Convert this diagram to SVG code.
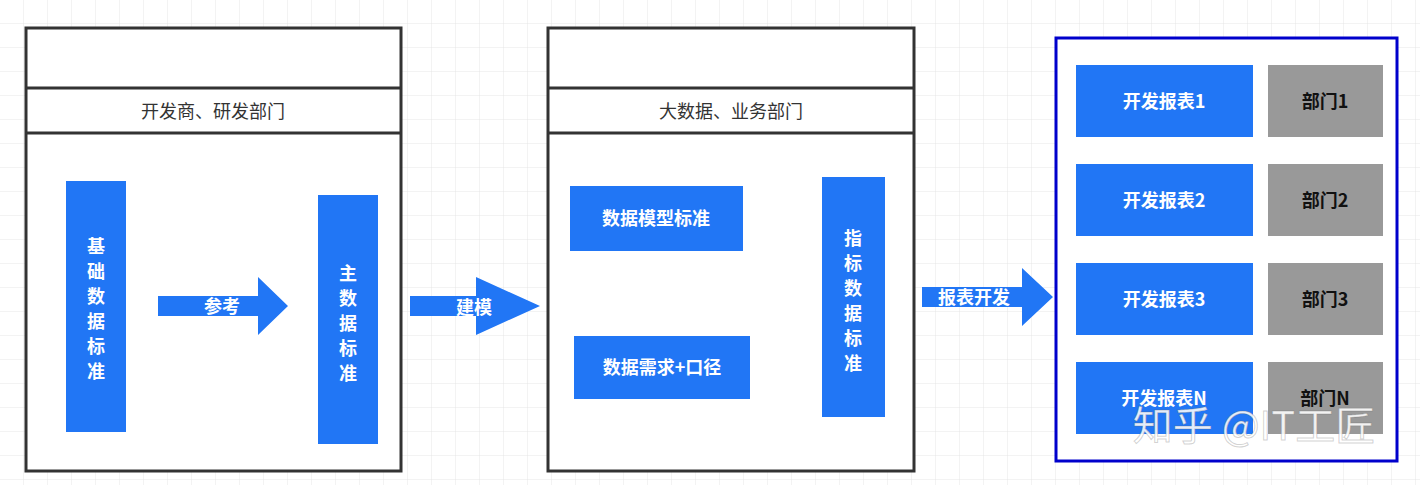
<svg xmlns="http://www.w3.org/2000/svg" width="1420" height="485" viewBox="0 0 1420 485">
<defs>
<pattern id="g" width="24" height="24" patternUnits="userSpaceOnUse"><path d="M24 0V24H0" fill="none" stroke="#e6e6e6" stroke-width="1"/></pattern>
<style>
.pan{fill:#fff;stroke:#333;stroke-width:3}
.b{fill:#2176f5}
.gr{fill:#999}
.t{font-family:"Noto Sans CJK SC","Liberation Sans",sans-serif;font-size:18px;fill:#333;text-anchor:middle}
.w{font-family:"Noto Sans CJK SC","Liberation Sans",sans-serif;font-size:18px;font-weight:bold;fill:#fff;text-anchor:middle}
.k{font-family:"Noto Sans CJK SC","Liberation Sans",sans-serif;font-size:18px;font-weight:bold;fill:#111;text-anchor:middle}
</style>
</defs>
<rect width="1420" height="485" fill="#fff"/>
<rect width="1420" height="485" fill="url(#g)"/>
<g id="panel1">
<rect class="pan" x="26" y="28" width="375" height="443"/>
<path d="M26 88H401M26 133H401" stroke="#333" stroke-width="3"/>
<text class="t" x="213" y="118" font-weight="normal">开发商、研发部门</text>
</g>
<g id="jichu"><rect class="b" x="66" y="181" width="60" height="251"/>
<text class="w" x="96" y="253">基</text><text class="w" x="96" y="278">础</text><text class="w" x="96" y="303">数</text><text class="w" x="96" y="328">据</text><text class="w" x="96" y="353">标</text><text class="w" x="96" y="378">准</text></g>
<g id="zhu"><rect class="b" x="318" y="195" width="60" height="249"/>
<text class="w" x="348" y="280">主</text><text class="w" x="348" y="305">数</text><text class="w" x="348" y="330">据</text><text class="w" x="348" y="355">标</text><text class="w" x="348" y="380">准</text></g>
<g id="panel2">
<rect class="pan" x="548" y="28" width="366" height="443"/>
<path d="M548 88H914M548 133H914" stroke="#333" stroke-width="3"/>
<text class="t" x="731" y="118">大数据、业务部门</text>
</g>
<g id="moxing"><rect class="b" x="570" y="186" width="173" height="65"/><text class="w" x="656" y="225">数据模型标准</text></g>
<g id="xuqiu"><rect class="b" x="574" y="336" width="176" height="63"/><text class="w" x="662" y="374">数据需求+口径</text></g>
<g id="zhibiao"><rect class="b" x="822" y="177" width="63" height="240"/>
<text class="w" x="853" y="245">指</text><text class="w" x="853" y="270">标</text><text class="w" x="853" y="295">数</text><text class="w" x="853" y="320">据</text><text class="w" x="853" y="345">标</text><text class="w" x="853" y="370">准</text></g>
<g id="connectors">
<path class="b" d="M158 296H258V277L288 306L258 335V316H158Z"/>
<text class="w" x="222" y="313">参考</text>
<path class="b" d="M410 296H476V277L540 306L476 335V316H410Z"/>
<text class="w" x="474" y="314">建模</text>
<path class="b" d="M922 287H1022V268L1053 297L1022 326V307H922Z"/>
<text class="w" x="974" y="304">报表开发</text>
</g>
<g id="panel3">
<rect x="1056" y="38" width="341" height="423" fill="#fff" stroke="#0000cc" stroke-width="3"/>
</g>
<g id="r1"><rect class="b" x="1076" y="65" width="177" height="72"/><text class="w" x="1164" y="108">开发报表1</text><rect class="gr" x="1268" y="65" width="115" height="72"/><text class="k" x="1325" y="108">部门1</text></g>
<g id="r2"><rect class="b" x="1076" y="164" width="177" height="72"/><text class="w" x="1164" y="207">开发报表2</text><rect class="gr" x="1268" y="164" width="115" height="72"/><text class="k" x="1325" y="207">部门2</text></g>
<g id="r3"><rect class="b" x="1076" y="263" width="177" height="72"/><text class="w" x="1164" y="306">开发报表3</text><rect class="gr" x="1268" y="263" width="115" height="72"/><text class="k" x="1325" y="306">部门3</text></g>
<g id="r4"><rect class="b" x="1076" y="362" width="177" height="72"/><text class="w" x="1164" y="405">开发报表N</text><rect class="gr" x="1268" y="362" width="115" height="72"/><text class="k" x="1325" y="405">部门N</text></g>
<text x="1254" y="440" font-family="Noto Sans CJK SC,sans-serif" font-size="40" fill="#fff" fill-opacity="0.9" text-anchor="middle" stroke="#666" stroke-opacity="0.3" stroke-width="1">知乎 @IT工匠</text>
</svg>
